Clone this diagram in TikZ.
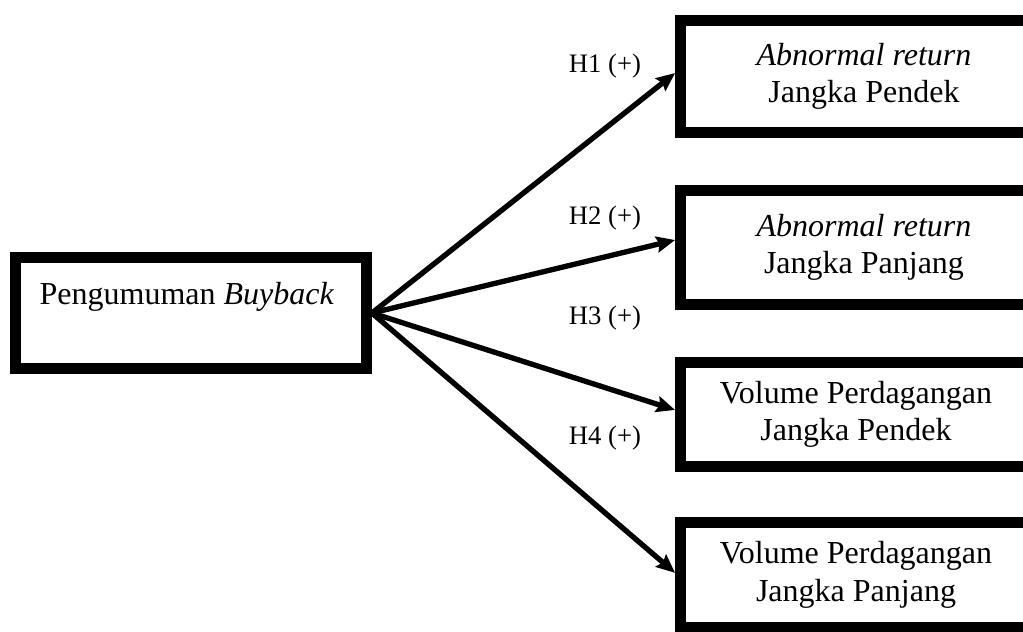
\documentclass[tikz,border=0pt]{standalone}
\usepackage{fontspec}
\setmainfont{Liberation Serif}
\usetikzlibrary{arrows.meta}
\begin{document}
\begin{tikzpicture}[x=0.375pt,y=-0.375pt,
  boxstyle/.style={draw=black,line width=4pt,rectangle,inner sep=0pt,
    align=center,font=\fontsize{12}{14}\selectfont},
  hyplabel/.style={font=\fontsize{10}{12}\selectfont,inner sep=0pt},
  arrowstyle/.style={line width=2pt,-{Stealth[length=7pt,width=6pt,inset=1pt]}}]
\useasboundingbox (0,0) rectangle (1023,631);
\clip (0,0) rectangle (1023,631);
% left box
\node[boxstyle,minimum width=131.7pt,minimum height=41.7pt] (b0) at (191,313) {};
\node[font=\fontsize{12}{14}\selectfont,inner sep=0pt] (t0) at (187,297) {Pengumuman \textit{Buyback}};
% right boxes
\node[boxstyle,minimum width=137.7pt,minimum height=42.1pt] (b1) at (864,76.5) {\textit{Abnormal return}\\Jangka Pendek};
\node[boxstyle,minimum width=137.7pt,minimum height=42.9pt] (b2) at (864,247.5) {\textit{Abnormal return}\\Jangka Panjang};
\node[boxstyle,minimum width=131.7pt,minimum height=39.1pt] (b3) at (856,414.5) {Volume Perdagangan\\Jangka Pendek};
\node[boxstyle,minimum width=131.7pt,minimum height=39.5pt] (b4) at (856,575) {Volume Perdagangan\\Jangka Panjang};
% arrows
\draw[arrowstyle] (b0.east) -- ([yshift=1.3pt]b1.west);
\draw[arrowstyle] (b0.east) -- ([yshift=2.8pt]b2.west);
\draw[arrowstyle] (b0.east) -- ([yshift=1.7pt]b3.west);
\draw[arrowstyle] (b0.east) -- ([yshift=0.8pt]b4.west);
% labels
\node[hyplabel] (h1) at (605,66) {H1 (+)};
\node[hyplabel] (h2) at (605,218) {H2 (+)};
\node[hyplabel] (h3) at (605,318) {H3 (+)};
\node[hyplabel] (h4) at (605,438) {H4 (+)};
\end{tikzpicture}
\end{document}
